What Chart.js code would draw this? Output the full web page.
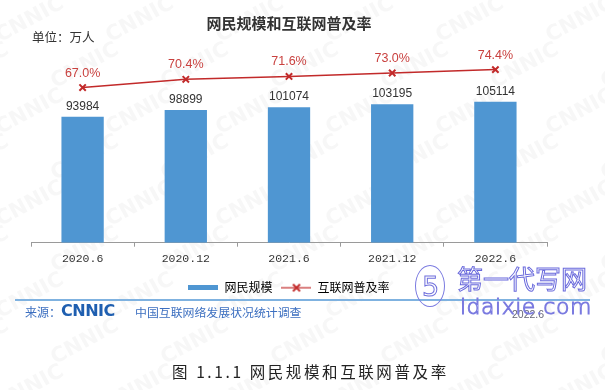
<!DOCTYPE html>
<html>
<head>
<meta charset="utf-8">
<script src="https://cdn.jsdelivr.net/npm/chart.js@4/dist/chart.umd.min.js"></script>
<style>
  html, body { margin: 0; padding: 0; background: #fff; }
  #wrap { position: relative; width: 605px; height: 390px; overflow: hidden; font-family: "Noto Sans CJK SC", sans-serif; }
  #wrap canvas { position: absolute; left: 0; top: 0; }
  .abs { position: absolute; white-space: nowrap; line-height: 1; }
</style>
</head>
<body>
<div id="wrap">
  <canvas id="chart" width="605" height="390"></canvas>
  <div class="abs" style="left:32px;top:31px;font-size:12.5px;color:#333;">单位：万人</div>

  <div class="abs" style="left:15px;top:299px;width:575px;height:1.5px;background:#7fb2e0;"></div>
  <div class="abs" style="left:25px;top:306px;font-size:12px;color:#3c6fc0;">来源：</div>
  <div class="abs" style="left:61px;top:303px;font-family:'DejaVu Sans';font-weight:bold;font-size:16px;color:#1f5fb0;letter-spacing:-0.5px;">CNNIC</div>
  <div class="abs" style="left:135px;top:306px;font-size:11.9px;color:#3c6fc0;">中国互联网络发展状况统计调查</div>
  <div class="abs" style="left:512px;top:309px;font-family:'Liberation Sans';font-size:10.5px;color:#667;">2022.6</div>

  <div class="abs" style="left:415px;top:265px;width:28px;height:40px;border:1.5px solid #7a7ae0;border-radius:50%;"></div>
  <div class="abs" style="left:422px;top:273px;font-family:'DejaVu Sans';font-size:27px;color:transparent;-webkit-text-stroke:1px #7070dc;">5</div>
  <div class="abs" style="left:457px;top:265px;font-size:26px;color:#fff;-webkit-text-stroke:1px #6a6adc;">第一代写网</div>
  <div class="abs" style="left:460px;top:296px;font-family:'DejaVu Sans';font-weight:300;font-size:22px;color:rgba(255,255,255,0.6);-webkit-text-stroke:1px #7a7ae0;letter-spacing:0.5px;">ldaixie.com</div>

  <div class="abs" style="left:172px;top:364px;font-size:15.5px;color:#222;letter-spacing:2.6px;">图 1.1.1 网民规模和互联网普及率</div>
</div>

<script>
// data
var periods = ['2020.6', '2020.12', '2021.6', '2021.12', '2022.6'];
var netizens = [93984, 98899, 101074, 103195, 105114];      // 万人
var penetration = [67.0, 70.4, 71.6, 73.0, 74.4];             // %

var barBlue = '#4f96d2';
var lineRed = '#c22a2a';
var labelRed = '#c9413f';

// legend icons
function barIcon() {
    var c = document.createElement('canvas');
    c.width = 30; c.height = 5;
    var g = c.getContext('2d');
    g.fillStyle = barBlue;
    g.fillRect(0, 0, 30, 5);
    return c;
}
function lineIcon() {
    var c = document.createElement('canvas');
    c.width = 30; c.height = 10;
    var g = c.getContext('2d');
    g.strokeStyle = lineRed;
    g.lineWidth = 1.2;
    g.beginPath(); g.moveTo(0, 5); g.lineTo(30, 5); g.stroke();
    g.lineWidth = 1.8;
    g.beginPath();
    g.moveTo(11.5, 1.5); g.lineTo(18.5, 8.5);
    g.moveTo(18.5, 1.5); g.lineTo(11.5, 8.5);
    g.stroke();
    return c;
}

// faint CNNIC watermark behind everything
var watermark = {
    id: 'watermark',
    beforeDraw: function (chart) {
        var ctx = chart.ctx;
        ctx.save();
        ctx.font = 'bold 21px "DejaVu Sans"';
        ctx.fillStyle = 'rgba(140,140,140,0.065)';
        ctx.textAlign = 'center';
        ctx.textBaseline = 'middle';
        for (var r = -1; r < 10; r++) {
            for (var c = -1; c < 8; c++) {
                var x = c * 110 + (r % 2 ? 55 : 0) + 30;
                var y = r * 46 + 20;
                ctx.save();
                ctx.translate(x, y);
                ctx.rotate(-0.5);
                ctx.fillText('CNNIC', 0, 0);
                ctx.restore();
            }
        }
        ctx.restore();
    }
};

// value labels over bars and points
var valueLabels = {
    id: 'valueLabels',
    afterDatasetsDraw: function (chart) {
        var ctx = chart.ctx;
        ctx.save();
        ctx.textAlign = 'center';
        ctx.textBaseline = 'alphabetic';

        var bars = chart.getDatasetMeta(0).data;
        ctx.font = '12px "Liberation Sans"';
        ctx.fillStyle = '#333';
        bars.forEach(function (b, i) {
            ctx.fillText(String(netizens[i]), b.x, b.y - 7);
        });

        var pts = chart.getDatasetMeta(1).data;
        ctx.font = '12.5px "Liberation Sans"';
        ctx.fillStyle = labelRed;
        pts.forEach(function (p, i) {
            ctx.fillText(penetration[i].toFixed(1) + '%', p.x, p.y - 11);
        });
        ctx.restore();
    }
};

var ctx = document.getElementById('chart').getContext('2d');
var chart = new Chart(ctx, {
    type: 'bar',
    data: {
        labels: periods,
        datasets: [{
            label: '网民规模',
            data: netizens,
            backgroundColor: barBlue,
            yAxisID: 'y',
            categoryPercentage: 1,
            barPercentage: 0.41,
            order: 2
        }, {
            type: 'line',
            label: '互联网普及率',
            data: penetration,
            yAxisID: 'y2',
            borderColor: lineRed,
            borderWidth: 1.5,
            pointStyle: 'crossRot',
            pointRadius: 4.5,
            pointBorderWidth: 2,
            pointBorderColor: lineRed,
            pointBackgroundColor: lineRed,
            fill: false,
            tension: 0,
            order: 1
        }]
    },
    options: {
        responsive: false,
        animation: false,
        layout: { padding: { left: 31, right: 58, top: 0, bottom: 86.3 } },
        plugins: {
            title: {
                display: true,
                text: '网民规模和互联网普及率',
                color: '#333',
                font: { family: '"Noto Sans CJK SC"', size: 15, weight: 'bold', lineHeight: 1.2 },
                padding: { top: 14, bottom: 9.5 }
            },
            legend: {
                position: 'bottom',
                labels: {
                    color: '#333',
                    font: { family: '"Noto Sans CJK SC"', size: 12 },
                    usePointStyle: true,
                    pointStyleWidth: 30,
                    padding: 9,
                    generateLabels: function (ch) {
                        return [
                            { text: '网民规模', pointStyle: barIcon(), fillStyle: barBlue, strokeStyle: barBlue, lineWidth: 0, datasetIndex: 0 },
                            { text: '互联网普及率', pointStyle: lineIcon(), fillStyle: lineRed, strokeStyle: lineRed, lineWidth: 0, datasetIndex: 1 }
                        ];
                    }
                }
            },
            tooltip: { enabled: false }
        },
        scales: {
            x: {
                offset: true,
                grid: {
                    offset: true,
                    drawOnChartArea: false,
                    drawTicks: true,
                    tickLength: 4,
                    color: '#9a9a9a'
                },
                border: { display: true, color: '#9a9a9a', width: 1 },
                ticks: {
                    color: '#333',
                    padding: 5,
                    font: { family: '"Liberation Mono"', size: 11.5 }
                },
                afterFit: function (s) { s.height = 30; }
            },
            y: {
                display: false,
                min: 0,
                max: 150000
            },
            y2: {
                display: false,
                position: 'right',
                min: 3,
                max: 86
            }
        }
    },
    plugins: [watermark, valueLabels]
});
</script>
</body>
</html>
